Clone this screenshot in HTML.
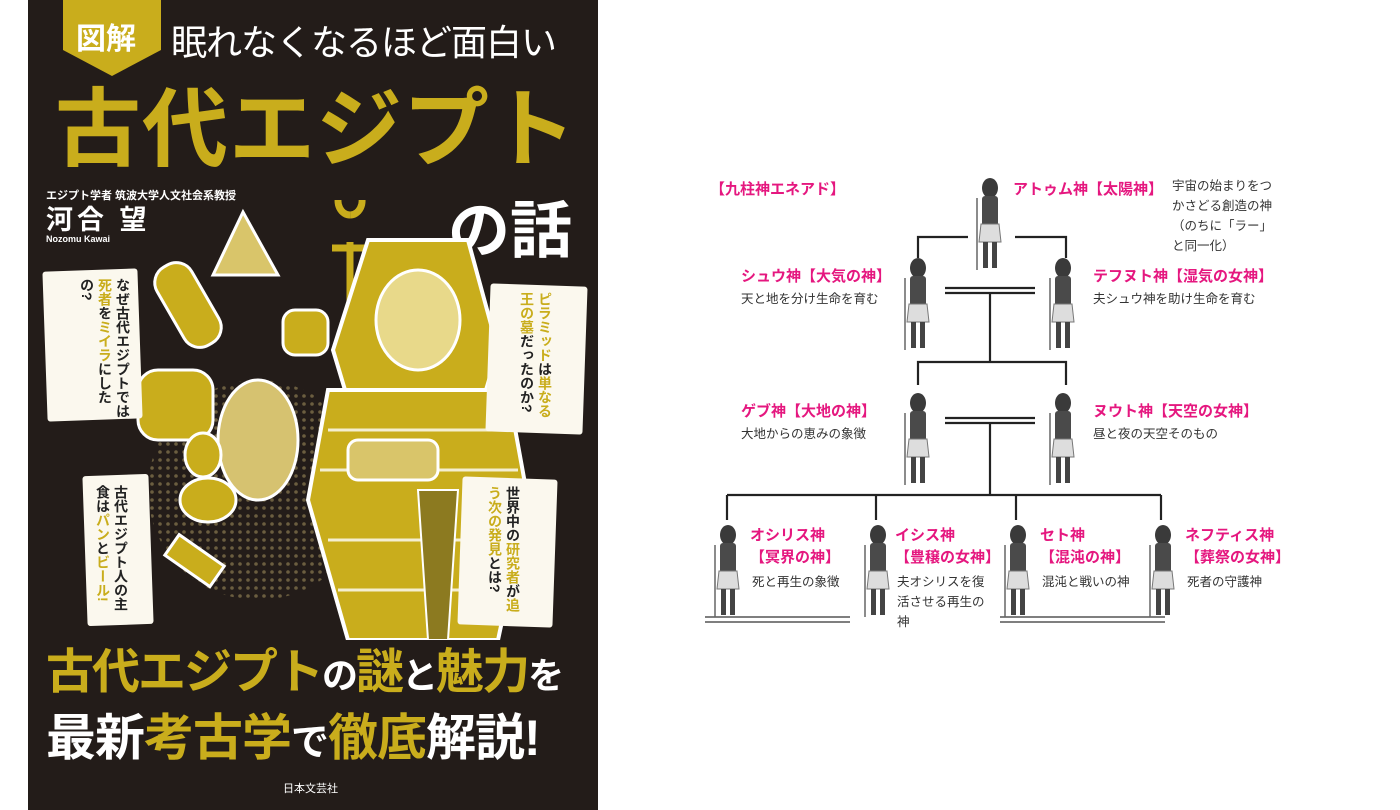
<!DOCTYPE html>
<html><head><meta charset="utf-8">
<style>
*{margin:0;padding:0;box-sizing:border-box}
body{width:1400px;height:810px;background:#fff;position:relative;overflow:hidden;font-family:"Liberation Sans","Noto Sans CJK JP",sans-serif}
.a{position:absolute;white-space:nowrap}
.cover{position:absolute;left:28px;top:0;width:570px;height:810px;background:#231c19;overflow:hidden}
.g{color:#c9ad1c}
.w{color:#fff}
.box{position:absolute;background:#fbf8ee;border-radius:3px}
.vt{position:absolute;writing-mode:vertical-rl;font-size:14px;line-height:18px;color:#222;font-weight:bold}
.pk{color:#e5177f;font-weight:bold;font-size:15px}
.dt{color:#333;font-size:12.5px;line-height:20px}
</style></head><body>
<div class="cover">
  <svg class="a" style="left:35px;top:0" width="100" height="78"><polygon points="0,0 98,0 98,50 49,76 0,50" fill="#c9ad1c"/></svg>
  <div class="a w" style="left:48px;top:14px;font-size:30px;font-weight:bold">図解</div>
  <div class="a w" style="left:143px;top:14px;font-size:36px;letter-spacing:-1px">眠れなくなるほど面白い</div>
  <div class="a g" style="left:27px;top:78px;font-size:86px;line-height:104px;letter-spacing:1px;font-weight:bold">古代エジプト</div>
  <div class="a w" style="left:18px;top:187px;font-size:11px;font-weight:bold">エジプト学者 筑波大学人文社会系教授</div>
  <div class="a w" style="left:18px;top:198px;font-size:27px;font-weight:bold;letter-spacing:4px">河合 望</div>
  <div class="a w" style="left:18px;top:234px;font-size:9px;font-weight:bold">Nozomu Kawai</div>
  <div class="a w" style="left:420px;top:180px;font-size:62px;font-weight:bold">の話</div>
  <svg class="a" style="left:0;top:200px" width="570" height="440">
    <defs><pattern id="dots" width="8" height="8" patternUnits="userSpaceOnUse"><circle cx="4" cy="4" r="1.8" fill="#8a7a50"/></pattern></defs>
    <circle cx="230" cy="290" r="110" fill="url(#dots)" opacity="0.7"/>
    <polygon points="185,75 215,12 250,75" fill="#d9c56a" stroke="#fff" stroke-width="3"/>
    <path d="M322,15 a12,14 0 1 1 0.1,0 M322,42 L322,110 M304,48 L340,48" stroke="#c9ad1c" stroke-width="7" fill="none"/>
    <rect x="140" y="60" width="40" height="90" rx="18" fill="#c9ad1c" stroke="#fff" stroke-width="3" transform="rotate(-30 160 105)"/>
    <rect x="255" y="110" width="45" height="45" rx="12" fill="#c9ad1c" stroke="#fff" stroke-width="3"/>
    <rect x="110" y="170" width="75" height="70" rx="20" fill="#c9ad1c" stroke="#fff" stroke-width="3"/>
    <ellipse cx="230" cy="240" rx="40" ry="60" fill="#d6c270" stroke="#fff" stroke-width="3"/>
    <ellipse cx="180" cy="300" rx="28" ry="22" fill="#c9ad1c" stroke="#fff" stroke-width="3"/>
    <ellipse cx="175" cy="255" rx="18" ry="22" fill="#c9ad1c" stroke="#fff" stroke-width="3"/>
    <rect x="140" y="350" width="55" height="25" fill="#c9ad1c" stroke="#fff" stroke-width="3" transform="rotate(35 170 360)"/>
    <polygon points="340,40 440,40 470,150 455,200 320,200 305,150" fill="#c9ad1c" stroke="#fff" stroke-width="4"/>
    <ellipse cx="390" cy="120" rx="42" ry="50" fill="#e8d98a" stroke="#fff" stroke-width="3"/>
    <polygon points="300,190 480,190 500,300 470,440 320,440 280,300" fill="#c9ad1c" stroke="#fff" stroke-width="4"/>
    <g stroke="#fff" stroke-width="3" opacity="0.8"><line x1="300" y1="230" x2="480" y2="230"/><line x1="292" y1="270" x2="490" y2="270"/><line x1="300" y1="340" x2="485" y2="340"/><line x1="310" y1="390" x2="475" y2="390"/></g>
    <rect x="320" y="240" width="90" height="40" rx="10" fill="#d9c56a" stroke="#fff" stroke-width="3"/>
    <polygon points="390,290 430,290 420,440 400,440" fill="#8c7a20" stroke="#fff" stroke-width="2"/>
  </svg>
  <div class="box" style="left:17px;top:270px;width:95px;height:150px;transform:rotate(-2deg)"></div>
  <div class="vt" style="left:50px;top:278px;height:140px">なぜ古代エジプトでは<span style="color:#c9ad1c">死者</span>を<span style="color:#c9ad1c">ミイラ</span>にしたの?</div>
  <div class="box" style="left:460px;top:285px;width:97px;height:148px;transform:rotate(2deg)"></div>
  <div class="vt" style="left:490px;top:292px;height:135px"><span style="color:#c9ad1c">ピラミッド</span>は<span style="color:#c9ad1c">単なる王の墓</span>だったのか?</div>
  <div class="box" style="left:57px;top:475px;width:66px;height:150px;transform:rotate(-2deg)"></div>
  <div class="vt" style="left:66px;top:485px;height:135px">古代エジプト人の主食は<span style="color:#c9ad1c">パン</span>と<span style="color:#c9ad1c">ビール!</span></div>
  <div class="box" style="left:432px;top:478px;width:95px;height:148px;transform:rotate(2deg)"></div>
  <div class="vt" style="left:458px;top:486px;height:135px">世界中の<span style="color:#c9ad1c">研究者</span>が<span style="color:#c9ad1c">追う次の発見</span>とは?</div>
  <div class="a" style="left:18px;top:642px;font-size:48px;font-weight:bold;letter-spacing:-2px;line-height:62px"><span class="g">古代エジプト</span><span class="w" style="font-size:36px">の</span><span class="g">謎</span><span class="w" style="font-size:36px">と</span><span class="g">魅力</span><span class="w" style="font-size:36px">を</span></div>
  <div class="a" style="left:18px;top:706px;font-size:50px;font-weight:bold;letter-spacing:-1px;line-height:64px"><span class="w">最新</span><span class="g">考古学</span><span class="w" style="font-size:38px">で</span><span class="g">徹底</span><span class="w">解説!</span></div>
  <div class="a w" style="left:255px;top:780px;font-size:11px">日本文芸社</div>
</div>

<svg class="a" style="left:0;top:0" width="1400" height="810">
  <defs>
    <g id="fig">
      <ellipse cx="18" cy="10" rx="8" ry="10" fill="#3a3a3a"/>
      <rect x="10" y="18" width="16" height="30" rx="3" fill="#4a4a4a"/>
      <polygon points="9,46 27,46 29,64 7,64" fill="#ddd" stroke="#777" stroke-width="1"/>
      <rect x="11" y="64" width="5" height="26" fill="#444"/>
      <rect x="20" y="64" width="5" height="26" fill="#444"/>
      <line x1="5" y1="20" x2="5" y2="92" stroke="#666" stroke-width="1.5"/>
    </g>
  </defs>
  <g stroke="#222" stroke-width="2.2" fill="none">
    <polyline points="918,258 918,237 968,237"/><polyline points="1015,237 1066,237 1066,258"/>
    <line x1="945" y1="288" x2="1035" y2="288"/><line x1="945" y1="293" x2="1035" y2="293"/>
    <line x1="990" y1="293" x2="990" y2="362"/>
    <polyline points="918,385 918,362 1066,362 1066,385"/>
    <line x1="945" y1="418" x2="1035" y2="418"/><line x1="945" y1="423" x2="1035" y2="423"/>
    <line x1="990" y1="423" x2="990" y2="495"/>
    <line x1="727" y1="495" x2="1161" y2="495"/>
    <line x1="727" y1="495" x2="727" y2="520"/><line x1="876" y1="495" x2="876" y2="520"/>
    <line x1="1016" y1="495" x2="1016" y2="520"/><line x1="1161" y1="495" x2="1161" y2="520"/>
  </g>
  <g stroke="#555" stroke-width="1.5">
    <line x1="705" y1="617" x2="850" y2="617"/><line x1="705" y1="622" x2="850" y2="622"/>
    <line x1="1000" y1="617" x2="1165" y2="617"/><line x1="1000" y1="622" x2="1165" y2="622"/>
  </g>
  <use href="#fig" x="972" y="178"/>
  <use href="#fig" x="900" y="258"/>
  <use href="#fig" x="1045" y="258"/>
  <use href="#fig" x="900" y="393"/>
  <use href="#fig" x="1045" y="393"/>
  <use href="#fig" x="710" y="525"/>
  <use href="#fig" x="860" y="525"/>
  <use href="#fig" x="1000" y="525"/>
  <use href="#fig" x="1145" y="525"/>
</svg>

<div class="a pk" style="left:710px;top:178px">【九柱神エネアド】</div>
<div class="a pk" style="left:1013px;top:178px">アトゥム神【太陽神】</div>
<div class="a dt" style="left:1172px;top:176px">宇宙の始まりをつ<br>かさどる創造の神<br>（のちに「ラー」<br>と同一化）</div>
<div class="a pk" style="left:741px;top:265px">シュウ神【大気の神】</div>
<div class="a dt" style="left:741px;top:289px">天と地を分け生命を育む</div>
<div class="a pk" style="left:1093px;top:265px">テフヌト神【湿気の女神】</div>
<div class="a dt" style="left:1093px;top:289px">夫シュウ神を助け生命を育む</div>
<div class="a pk" style="left:741px;top:400px">ゲブ神【大地の神】</div>
<div class="a dt" style="left:741px;top:424px">大地からの恵みの象徴</div>
<div class="a pk" style="left:1093px;top:400px">ヌウト神【天空の女神】</div>
<div class="a dt" style="left:1093px;top:424px">昼と夜の天空そのもの</div>
<div class="a pk" style="left:750px;top:525px;line-height:22px">オシリス神<br>【冥界の神】</div>
<div class="a dt" style="left:752px;top:572px">死と再生の象徴</div>
<div class="a pk" style="left:895px;top:525px;line-height:22px">イシス神<br>【豊穣の女神】</div>
<div class="a dt" style="left:897px;top:572px">夫オシリスを復<br>活させる再生の<br>神</div>
<div class="a pk" style="left:1040px;top:525px;line-height:22px">セト神<br>【混沌の神】</div>
<div class="a dt" style="left:1042px;top:572px">混沌と戦いの神</div>
<div class="a pk" style="left:1185px;top:525px;line-height:22px">ネフティス神<br>【葬祭の女神】</div>
<div class="a dt" style="left:1187px;top:572px">死者の守護神</div>
</body></html>
